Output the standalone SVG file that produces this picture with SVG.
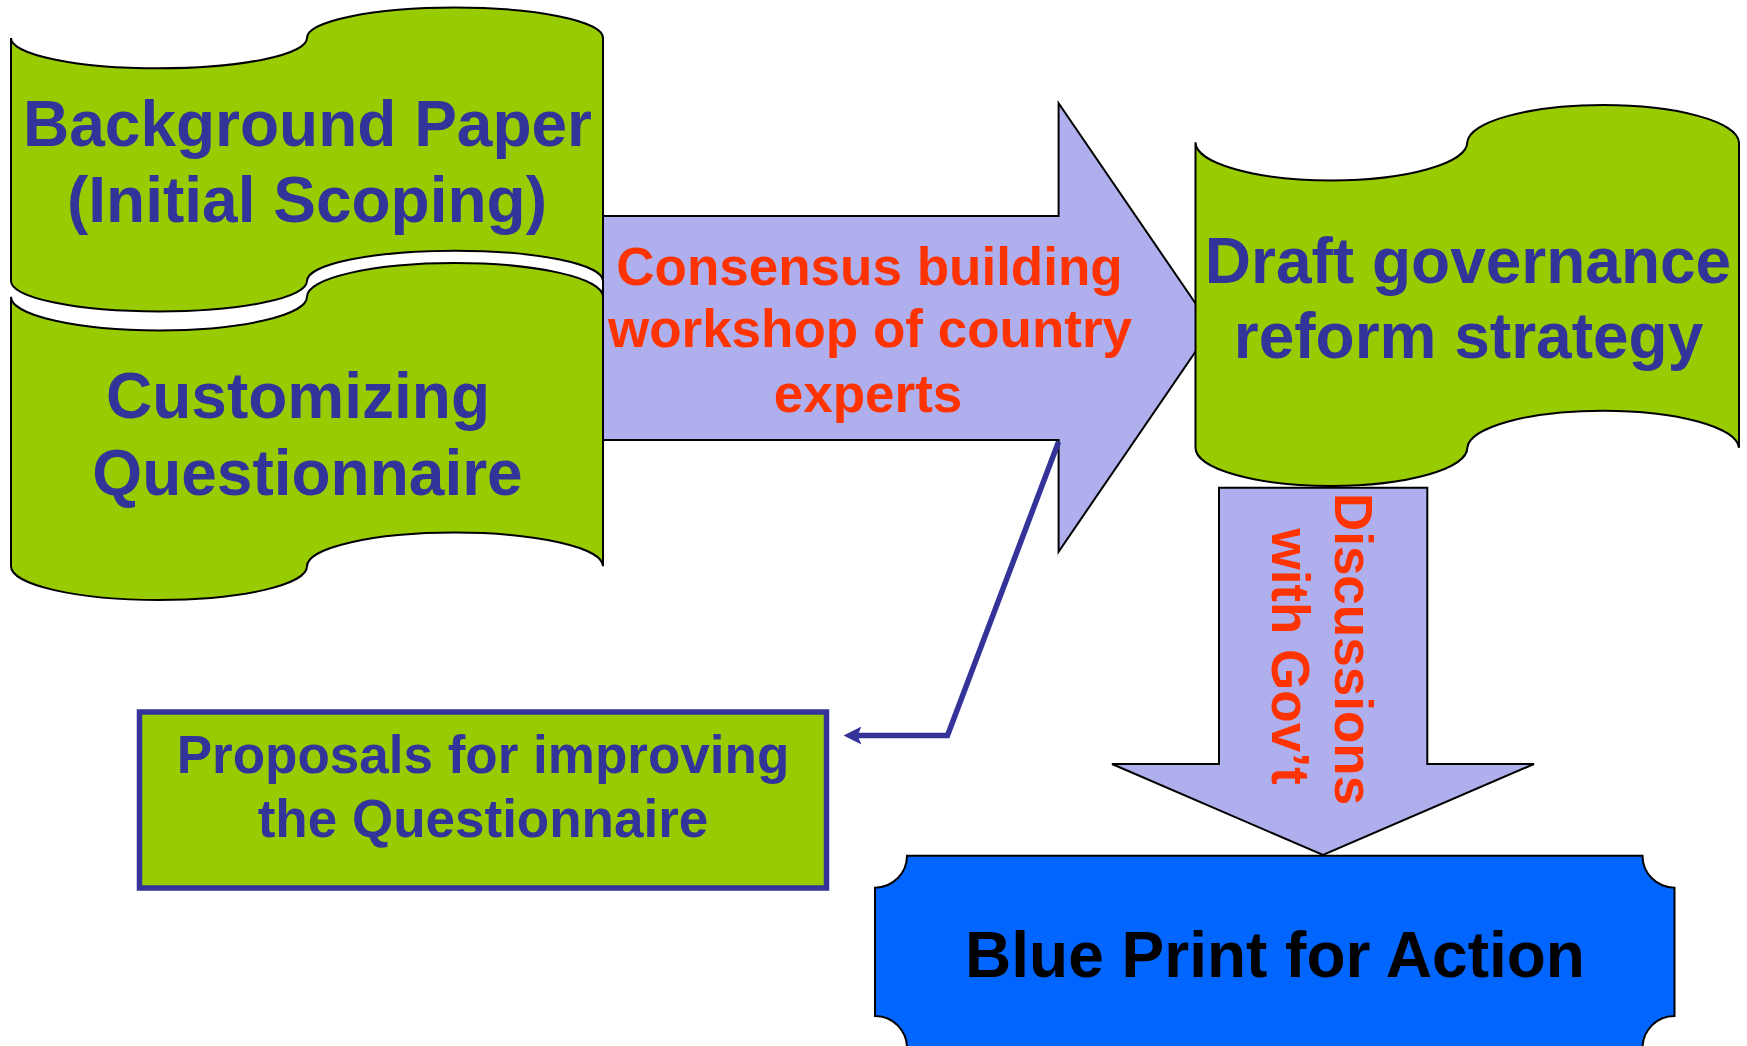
<svg xmlns="http://www.w3.org/2000/svg" width="1747" height="1046" viewBox="0 0 1747 1046">
<style>
.scroll{fill:#99CC00;stroke:#000;stroke-width:2}
.arrow{fill:#AFAFED;stroke:#000;stroke-width:2}
.t{font-family:"Liberation Sans",Arial,Helvetica,sans-serif;font-weight:bold;text-anchor:middle}
.big{font-size:64px;fill:#333399}
.red{font-size:53px;fill:#FF3300}
.mid{font-size:53px;fill:#333399}
.conn{fill:none;stroke:#333399;stroke-width:5.5;stroke-linejoin:miter}
</style>
<defs>
<marker id="ah" viewBox="0 0 18 18" refX="9.5" refY="9" markerWidth="18" markerHeight="18" markerUnits="userSpaceOnUse" orient="auto">
<path d="M0,0 L18,9 L0,18 L4,9 Z" fill="#333399"/>
</marker>
</defs>
<rect width="1747" height="1046" fill="#fff"/>
<g id="background-paper">
<path class="scroll" d="M11,37.9 A148,30.4 0 0 0 307,37.9 A148,30.4 0 0 1 603,37.9 L603,281.1 A148,30.4 0 0 0 307,281.1 A148,30.4 0 0 1 11,281.1 Z"/>
<text class="t big" x="307.5" y="146">Background Paper</text>
<text class="t big" x="307" y="222">(Initial Scoping)</text>
</g>
<g id="customizing-questionnaire">
<path class="scroll" d="M11,296.7 A148,33.7 0 0 0 307,296.7 A148,33.7 0 0 1 603,296.7 L603,566.3 A148,33.7 0 0 0 307,566.3 A148,33.7 0 0 1 11,566.3 Z"/>
<text class="t big" x="298" y="418">Customizing</text>
<text class="t big" x="307.5" y="495">Questionnaire</text>
</g>
<g id="consensus-workshop">
<path class="arrow" d="M603,216 L1058.6,216 L1058.6,103.3 L1212,327.5 L1058.6,551.7 L1058.6,440 L603,440 Z"/>
<text class="t red" x="869.5" y="285">Consensus building</text>
<text class="t red" x="870" y="347">workshop of country</text>
<text class="t red" x="868" y="412">experts</text>
</g>
<g id="draft-strategy">
<path class="scroll" d="M1195.5,142.2 A135.9,38.2 0 0 0 1467.3,142.2 A135.9,38.2 0 0 1 1739,142.2 L1739,447.8 A135.9,38.2 0 0 0 1467.3,447.8 A135.9,38.2 0 0 1 1195.5,447.8 Z"/>
<text class="t big" x="1468" y="283">Draft governance</text>
<text class="t big" x="1468.5" y="358">reform strategy</text>
</g>
<g id="discussions-govt">
<path class="arrow" d="M1219,487.7 L1427.3,487.7 L1427.3,764 L1534,764 L1323,855 L1112,764 L1219,764 Z"/>
<text class="t red" x="1335" y="649" transform="rotate(90 1335 649)">Discussions</text>
<text class="t red" x="1272" y="656.5" transform="rotate(90 1272 656.5)">with Gov’t</text>
</g>
<g id="blue-print">
<path d="M907,855.7 L1642.5,855.7 A32,32 0 0 0 1674.5,887.7 L1674.5,1016 A32,32 0 0 0 1642.5,1048 L907,1048 A32,32 0 0 0 875,1016 L875,887.7 A32,32 0 0 0 907,855.7 Z" fill="#0066FF" stroke="#000" stroke-width="2"/>
<text class="t" x="1275" y="977" font-size="64" fill="#000">Blue Print for Action</text>
</g>
<g id="proposals">
<rect x="139.5" y="712" width="687" height="176" fill="#99CC00" stroke="#333399" stroke-width="5.5"/>
<text class="t mid" x="483" y="773">Proposals for improving</text>
<text class="t mid" x="483" y="837">the Questionnaire</text>
</g>
<g id="connectors">
<polyline class="conn" points="1058.6,441.7 947.5,735.5 852,735.5" marker-end="url(#ah)"/>
</g>
</svg>
